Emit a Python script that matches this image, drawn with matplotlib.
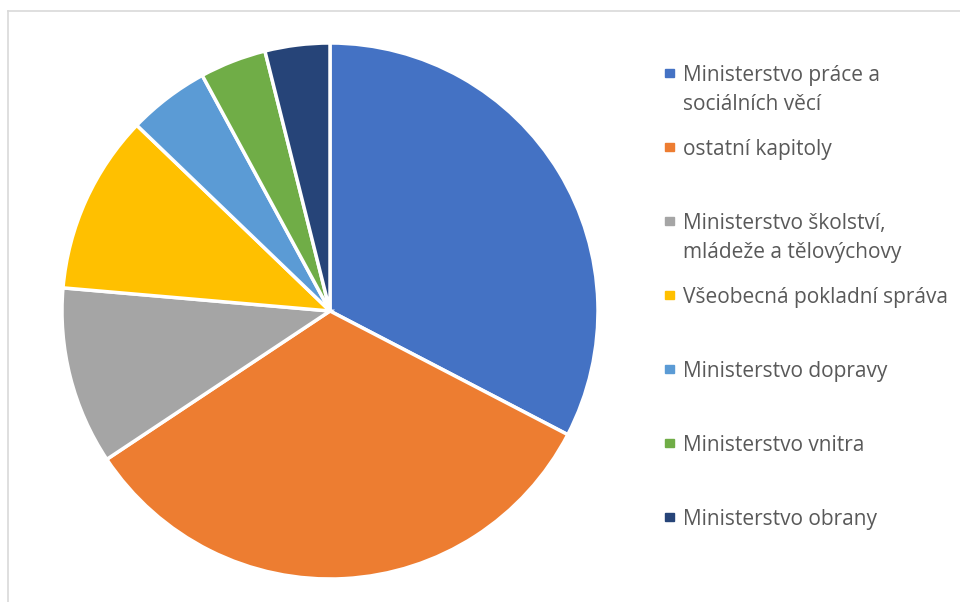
import matplotlib.pyplot as plt
from matplotlib.patches import Rectangle
from matplotlib.lines import Line2D

labels = [
    'Ministerstvo práce a\nsociálních věcí',
    'ostatní kapitoly',
    'Ministerstvo školství,\nmládeže a tělovýchovy',
    'Všeobecná pokladní správa',
    'Ministerstvo dopravy',
    'Ministerstvo vnitra',
    'Ministerstvo obrany',
]
values = [32.6, 33.0, 10.7, 10.8, 4.9, 4.0, 3.9]
colors = ['#4472C4', '#ED7D31', '#A5A5A5', '#FFC000', '#5B9BD5', '#70AD47', '#264478']

W, H = 960, 602
fig = plt.figure(figsize=(W / 100, H / 100), dpi=100)

# rámeček grafu
fig.add_artist(Line2D([8 / W, 1], [1 - 11 / H, 1 - 11 / H], color='#D9D9D9', lw=1.2))
fig.add_artist(Line2D([8 / W, 8 / W], [0, 1 - 11 / H], color='#D9D9D9', lw=1.2))

cx, cy, r = 330, 311, 268
ax = fig.add_axes([(cx - r) / W, (H - cy - r) / H, 2 * r / W, 2 * r / H])
ax.pie(values, colors=colors, startangle=90, counterclock=False, radius=1,
       wedgeprops=dict(edgecolor='white', linewidth=2.5))
ax.set_xlim(-1, 1)
ax.set_ylim(-1, 1)
ax.set_aspect('equal')
ax.axis('off')

# legenda - každý řádek zvlášť, značka u prvního řádku
step = 74
line_gap = 29
for i, (lab, col) in enumerate(zip(labels, colors)):
    y = 73 + i * step
    fig.add_artist(Rectangle((665 / W, 1 - (y + 4) / H), 9 / W, 8 / H, color=col,
                             transform=fig.transFigure))
    for j, part in enumerate(lab.split('\n')):
        fig.text(683 / W, 1 - (y + 8 + j * line_gap) / H, part, fontsize=15,
                 family='Open Sans', color='#595959', va='baseline', ha='left')

fig.savefig('out.png', dpi=100)
